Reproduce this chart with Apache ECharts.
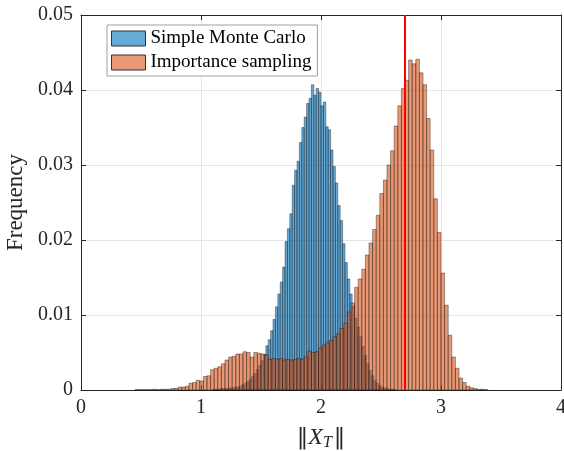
<!DOCTYPE html>
<html>
<head>
<meta charset="utf-8">
<script src="https://cdn.jsdelivr.net/npm/echarts@6/dist/echarts.min.js"></script>
<style>
  html, body { margin: 0; padding: 0; background: #fff; }
  #chart { width: 564px; height: 451px; }
</style>
</head>
<body>
<div id="chart"></div>
<script>
// Histogram of ||X_T|| for two estimators (probability-normalised bins)
const seriesNames = ['Simple Monte Carlo', 'Importance sampling'];

// Simple Monte Carlo: bins of width 0.02 starting at 1.10
const mcStart = 1.10;
const mcWidth = 0.02;
const mcFreq = [
  0.0001, 0.0001, 0.0001, 0.0002, 0.0002, 0.0002, 0.0002, 0.0003, 0.0003, 0.0004,
  0.0004, 0.0005, 0.0007, 0.0009, 0.0011, 0.0014, 0.0018, 0.0022, 0.0027, 0.0033,
  0.0039, 0.0047, 0.0059, 0.0067, 0.0079, 0.0094, 0.0111, 0.0128, 0.0144, 0.0164,
  0.0198, 0.0215, 0.0235, 0.0273, 0.0293, 0.0305, 0.0330, 0.0350, 0.0364, 0.0382,
  0.0389, 0.0407, 0.0393, 0.0402, 0.0397, 0.0379, 0.0384, 0.0351, 0.0347, 0.0320,
  0.0298, 0.0276, 0.0246, 0.0226, 0.0195, 0.0170, 0.0148, 0.0128, 0.0112, 0.0096,
  0.0084, 0.0071, 0.0058, 0.0046, 0.0035, 0.0026, 0.0019, 0.0013, 0.0009, 0.0006,
  0.0004, 0.0003, 0.0002, 0.0001, 0.0001, 0.0001
];

// Importance sampling: bins of width 0.03 starting at 0.45
const isStart = 0.45;
const isWidth = 0.03;
const isFreq = [
  0.00005, 0.00005, 0.00005, 0.00005, 0.00005, 0.0001, 0.00005, 0.0001, 0.0001, 0.0001,
  0.0002, 0.0002, 0.0004, 0.0004, 0.0005, 0.0009, 0.0010, 0.0013, 0.0012, 0.0018,
  0.0019, 0.0027, 0.0029, 0.0031, 0.0035, 0.0040, 0.0044, 0.0045, 0.0048, 0.0048,
  0.0051, 0.0050, 0.0044, 0.0050, 0.0049, 0.0048, 0.0047, 0.0041, 0.0042, 0.0041,
  0.0042, 0.0040, 0.0041, 0.0040, 0.0041, 0.0042, 0.0041, 0.0044, 0.0052, 0.0050,
  0.0051, 0.0056, 0.0060, 0.0063, 0.0066, 0.0071, 0.0075, 0.0082, 0.0089, 0.0104,
  0.0116, 0.0137, 0.0148, 0.0161, 0.0180, 0.0196, 0.0214, 0.0233, 0.0262, 0.0280,
  0.0300, 0.0319, 0.0352, 0.0379, 0.0402, 0.0413, 0.0440, 0.0435, 0.0441, 0.0423,
  0.0407, 0.0362, 0.0320, 0.0255, 0.0210, 0.0156, 0.0113, 0.0073, 0.0044, 0.0029,
  0.0016, 0.0010, 0.0005, 0.0003, 0.0002, 0.0001, 0.0001, 0.00005
];

// Reference value marked by the vertical line
const refValue = 2.7;

// Axis ticks
const xTicks = [0, 1, 2, 3, 4];
const yTicks = [0, 0.01, 0.02, 0.03, 0.04, 0.05];

function toBins(start, width, freq) {
  return freq.map((v, i) => [start + i * width, start + (i + 1) * width, v]);
}

const FONT = '"Liberation Serif", "DejaVu Serif", serif';
const blueFill = 'rgba(0,114,189,0.6)';
const orangeFill = 'rgba(217,83,25,0.6)';
const edge = 'rgba(0,0,0,0.6)';

function histRenderer(fill) {
  return function (params, api) {
    const x0 = api.value(0), x1 = api.value(1), h = api.value(2);
    const pTop = api.coord([x0, h]);
    const pBot = api.coord([x1, 0]);
    return {
      type: 'rect',
      shape: { x: pTop[0], y: pTop[1], width: pBot[0] - pTop[0], height: pBot[1] - pTop[1] },
      style: { fill: fill, stroke: edge, lineWidth: 0.6 }
    };
  };
}

const chart = echarts.init(document.getElementById('chart'), null, { renderer: 'canvas' });

const axisColor = '#262626';
const baseX = {
  type: 'value', min: xTicks[0], max: xTicks[xTicks.length - 1], interval: 1,
  axisLine: { show: true, onZero: false, lineStyle: { color: axisColor, width: 1 } },
  axisTick: { show: true, inside: true, length: 5, lineStyle: { color: axisColor } }
};
const baseY = {
  type: 'value', min: yTicks[0], max: yTicks[yTicks.length - 1], interval: 0.01,
  axisLine: { show: true, onZero: false, lineStyle: { color: axisColor, width: 1 } },
  axisTick: { show: true, inside: true, length: 5, lineStyle: { color: axisColor } }
};

chart.setOption({
  animation: false,
  backgroundColor: '#fff',
  grid: { left: 81, right: 3, top: 15, bottom: 61, containLabel: false, outerBoundsMode: 'none' },
  legend: {
    orient: 'vertical',
    left: 107, top: 25,
    itemWidth: 34, itemHeight: 15, itemGap: 5,
    padding: [4, 6, 4, 4],
    borderColor: '#a0a0a0', borderWidth: 1, backgroundColor: '#fff',
    textStyle: { fontFamily: FONT, fontSize: 19, color: '#000' },
    data: [
      { name: seriesNames[0], icon: 'rect', itemStyle: { color: 'rgb(102,170,215)', borderColor: '#333', borderWidth: 1 } },
      { name: seriesNames[1], icon: 'rect', itemStyle: { color: 'rgb(232,152,117)', borderColor: '#333', borderWidth: 1 } }
    ]
  },
  xAxis: [
    Object.assign({}, baseX, {
      position: 'bottom',
      axisLabel: { fontFamily: FONT, fontSize: 20, color: '#262626', margin: 8 },
      splitLine: { show: true, lineStyle: { color: '#e6e6e6', width: 1 } },
      name: '{d|‖}{x|X}{t|T}{d|‖}',
      nameLocation: 'middle', nameGap: 35,
      nameTextStyle: {
        rich: {
          d: { fontFamily: '"DejaVu Serif", serif', fontSize: 23, color: '#262626', lineHeight: 26 },
          x: { fontFamily: FONT, fontStyle: 'italic', fontSize: 24, color: '#262626', lineHeight: 26 },
          t: { fontFamily: FONT, fontStyle: 'italic', fontSize: 16, color: '#262626', lineHeight: 26,
               verticalAlign: 'bottom', padding: [8, 2, 0, 0] }
        }
      }
    }),
    Object.assign({}, baseX, {
      position: 'top',
      axisLabel: { show: false },
      splitLine: { show: false }
    })
  ],
  yAxis: [
    Object.assign({}, baseY, {
      position: 'left',
      axisLabel: {
        fontFamily: FONT, fontSize: 20, color: '#262626', margin: 8,
        formatter: v => (v === 0 ? '0' : v.toFixed(2))
      },
      splitLine: { show: true, lineStyle: { color: '#e6e6e6', width: 1 } },
      name: 'Frequency', nameLocation: 'middle', nameGap: 47, nameRotate: 90,
      nameTextStyle: { fontFamily: FONT, fontSize: 23, color: '#262626' }
    }),
    Object.assign({}, baseY, {
      position: 'right',
      axisLabel: { show: false },
      splitLine: { show: false }
    })
  ],
  series: [
    {
      name: seriesNames[0], type: 'custom', xAxisIndex: 0, yAxisIndex: 0,
      renderItem: histRenderer(blueFill),
      encode: { x: [0, 1], y: 2 },
      itemStyle: { color: 'rgb(102,170,215)' },
      data: toBins(mcStart, mcWidth, mcFreq), z: 2
    },
    {
      name: seriesNames[1], type: 'custom', xAxisIndex: 0, yAxisIndex: 0,
      renderItem: histRenderer(orangeFill),
      encode: { x: [0, 1], y: 2 },
      itemStyle: { color: 'rgb(232,152,117)' },
      data: toBins(isStart, isWidth, isFreq), z: 3
    },
    {
      name: 'reference', type: 'line', xAxisIndex: 0, yAxisIndex: 0,
      data: [[refValue, yTicks[0]], [refValue, yTicks[yTicks.length - 1]]],
      symbol: 'none', lineStyle: { color: '#ff0000', width: 2 }, z: 5,
      silent: true
    }
  ]
});
</script>
</body>
</html>
